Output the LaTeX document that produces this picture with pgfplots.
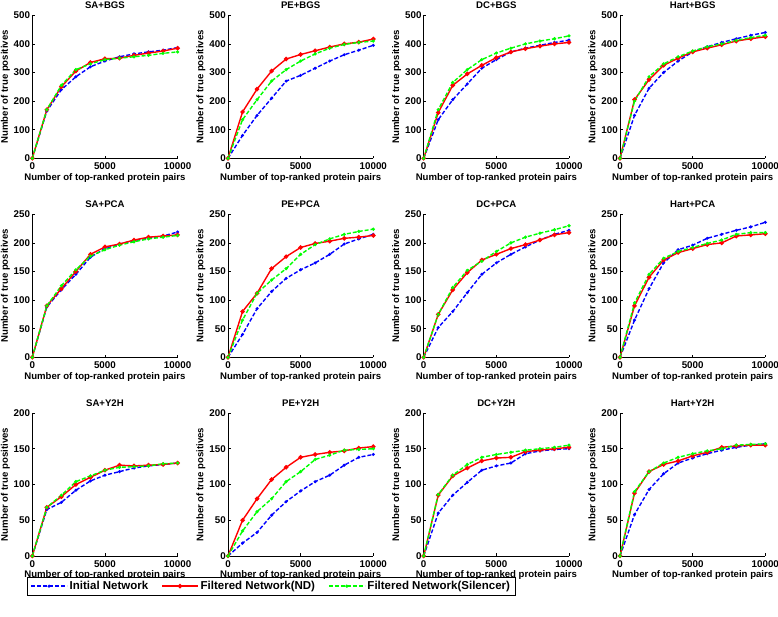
\documentclass[border=0pt]{standalone}
\usepackage{pgfplots}
\pgfplotsset{compat=1.18}
\usepackage{pgfplotstable}
\usepackage{fontspec}
\setmainfont{Liberation Sans}

% columns: x, initial (b), ND (r), Silencer (g)
\pgfplotstableread{
x b r g
0 0 0 0
1000 165 170 170
2000 240 250 255
3000 285 305 310
4000 320 335 330
5000 340 348 345
6000 355 350 350
7000 365 360 355
8000 372 368 360
9000 378 375 367
10000 387 385 372
}\SABGS
\pgfplotstableread{
x b r g
0 0 0 0
1000 80 162 135
2000 150 242 205
3000 210 305 270
4000 270 347 310
5000 290 363 340
6000 315 376 365
7000 340 389 385
8000 362 400 398
9000 378 406 405
10000 395 417 410
}\PEBGS
\pgfplotstableread{
x b r g
0 0 0 0
1000 135 160 170
2000 205 255 265
3000 260 295 310
4000 315 325 345
5000 345 352 368
6000 372 372 385
7000 385 383 400
8000 395 392 410
9000 405 400 418
10000 413 405 428
}\DCBGS
\pgfplotstableread{
x b r g
0 0 0 0
1000 150 205 200
2000 245 275 285
3000 300 325 330
4000 340 350 355
5000 372 372 375
6000 390 385 390
7000 405 397 400
8000 418 410 412
9000 430 418 422
10000 440 425 430
}\HartBGS
\pgfplotstableread{
x b r g
0 0 0 0
1000 88 90 90
2000 118 120 125
3000 145 150 153
4000 175 180 177
5000 190 193 188
6000 198 198 196
7000 204 205 202
8000 208 210 207
9000 212 212 210
10000 219 214 213
}\SAPCA
\pgfplotstableread{
x b r g
0 0 0 0
1000 40 80 65
2000 85 112 112
3000 115 155 135
4000 138 176 155
5000 153 192 180
6000 165 199 197
7000 180 203 207
8000 198 208 215
9000 207 210 220
10000 215 213 224
}\PEPCA
\pgfplotstableread{
x b r g
0 0 0 0
1000 52 75 75
2000 80 118 122
3000 113 148 152
4000 145 170 168
5000 165 180 185
6000 180 190 200
7000 193 197 210
8000 205 205 217
9000 215 214 223
10000 222 218 230
}\DCPCA
\pgfplotstableread{
x b r g
0 0 0 0
1000 65 90 95
2000 120 140 145
3000 165 170 173
4000 188 183 185
5000 196 190 192
6000 208 197 199
7000 215 200 205
8000 222 212 215
9000 228 214 218
10000 236 216 218
}\HartPCA
\pgfplotstableread{
x b r g
0 0 0 0
1000 65 68 68
2000 75 83 85
3000 92 100 104
4000 105 110 112
5000 113 120 120
6000 118 127 124
7000 123 126 125
8000 126 127 126
9000 128 128 129
10000 130 130 130
}\SAYH
\pgfplotstableread{
x b r g
0 0 0 0
1000 18 50 35
2000 33 80 62
3000 57 107 80
4000 76 124 104
5000 91 138 118
6000 104 142 135
7000 113 145 141
8000 127 147 148
9000 138 151 149
10000 142 153 150
}\PEYH
\pgfplotstableread{
x b r g
0 0 0 0
1000 60 85 86
2000 85 112 113
3000 103 123 128
4000 120 133 138
5000 126 137 142
6000 130 138 145
7000 143 146 148
8000 147 148 150
9000 149 150 152
10000 150 152 155
}\DCYH
\pgfplotstableread{
x b r g
0 0 0 0
1000 58 88 90
2000 93 118 118
3000 115 128 130
4000 130 133 138
5000 137 140 143
6000 143 145 147
7000 148 152 150
8000 152 154 155
9000 155 155 156
10000 157 155 157
}\HartYH

\definecolor{mgreen}{rgb}{0,1,0}
\definecolor{mblue}{rgb}{0,0,1}
\definecolor{mred}{rgb}{1,0,0}

\pgfplotsset{
  panel/.style={
    scale only axis, width=145.3pt, height=143pt, anchor=south west,
    xmin=0, xmax=10000, ymin=0,
    axis x line*=bottom, axis y line*=left,
    xtick={0,5000,10000}, scaled x ticks=false,
    /pgf/number format/1000 sep={},
    /pgf/number format/assume math mode=true,
    tick align=inside, major tick length=2.5pt,
    tick style={black, line width=0.5pt},
    axis line style={black, line width=0.5pt},
    font=\fontsize{9.6}{11}\selectfont\bfseries,
    ticklabel style={font=\fontsize{9.8}{11}\selectfont\bfseries},
    xticklabel style={inner sep=0pt, yshift=-4pt},
    yticklabel style={inner sep=0pt, xshift=-2pt},
    every axis title/.style={at={(axis description cs:0.5,1.07)}, anchor=center, inner sep=0pt, font=\fontsize{9.6}{11}\selectfont\bfseries},
    xlabel style={at={(axis description cs:0.5,-0.135)}, anchor=center, inner sep=0pt},
    ylabel style={at={(axis description cs:-0.186,0.5)}, anchor=center, inner sep=0pt},
    xlabel={Number of top-ranked protein pairs},
    ylabel={Number of true positives},
    clip=false,
  },
  sb/.style={color=mblue, line width=1.4pt, dash pattern=on 4pt off 2pt, mark=*, mark size=0.7pt, mark options={solid}},
  sr/.style={color=mred, line width=1.4pt, solid, mark=*, mark size=1.5pt},
  sg/.style={color=mgreen, line width=1.4pt, dash pattern=on 4pt off 2pt, mark=*, mark size=0.8pt, mark options={solid}},
}

\newcommand{\panel}[6]{%
  \begin{axis}[panel, at={(#1pt,#2pt)}, ymax=#3, ytick={#4}, title={#5}]
    \addplot[sb] table[x=x,y=b] {#6};
    \addplot[sr] table[x=x,y=r] {#6};
    \addplot[sg] table[x=x,y=g] {#6};
  \end{axis}}

\begin{document}
\begin{tikzpicture}[x=1pt,y=1pt]
\useasboundingbox (0,0) rectangle (778,617);
\panel{32.3}{458.7}{500}{0,100,...,500}{SA+BGS}{\SABGS}
\panel{228}{458.7}{500}{0,100,...,500}{PE+BGS}{\PEBGS}
\panel{423.7}{458.7}{500}{0,100,...,500}{DC+BGS}{\DCBGS}
\panel{620}{458.7}{500}{0,100,...,500}{Hart+BGS}{\HartBGS}
\panel{32.3}{259.7}{250}{0,50,...,250}{SA+PCA}{\SAPCA}
\panel{228}{259.7}{250}{0,50,...,250}{PE+PCA}{\PEPCA}
\panel{423.7}{259.7}{250}{0,50,...,250}{DC+PCA}{\DCPCA}
\panel{620}{259.7}{250}{0,50,...,250}{Hart+PCA}{\HartPCA}
\begin{axis}[panel, at={(32.3pt,61pt)}, ymax=200, ytick={0,50,...,200}, title={SA+Y2H},
  legend columns=3,
  legend style={at={(axis description cs:-0.036,-0.147)}, anchor=north west, draw=black, line width=0.5pt,
    font=\fontsize{11.5}{13}\selectfont\bfseries, inner xsep=3pt, inner ysep=2pt,
    /tikz/every even column/.append style={column sep=11pt}},
  legend image code/.code={\draw[mark repeat=2,mark phase=2] plot coordinates {(0pt,0pt)(18pt,0pt)(36pt,0pt)};}]
  \addplot[sb] table[x=x,y=b] {\SAYH};
  \addplot[sr] table[x=x,y=r] {\SAYH};
  \addplot[sg] table[x=x,y=g] {\SAYH};
  \legend{Initial Network, Filtered Network(ND), Filtered Network(Silencer)}
\end{axis}
\panel{228}{61}{200}{0,50,...,200}{PE+Y2H}{\PEYH}
\panel{423.7}{61}{200}{0,50,...,200}{DC+Y2H}{\DCYH}
\panel{620}{61}{200}{0,50,...,200}{Hart+Y2H}{\HartYH}
\end{tikzpicture}
\end{document}
